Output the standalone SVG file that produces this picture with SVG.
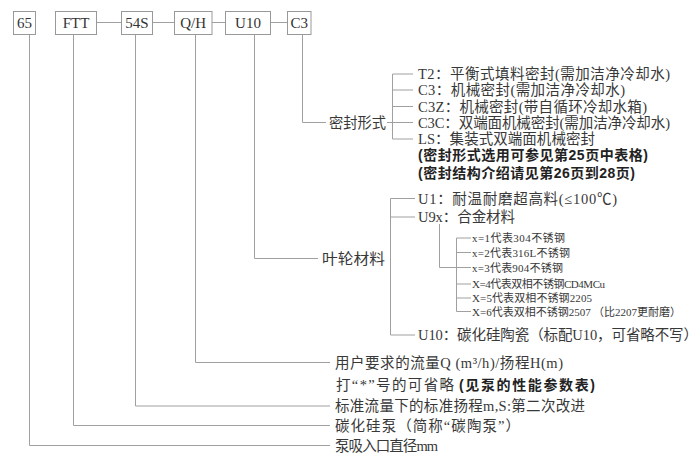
<svg xmlns="http://www.w3.org/2000/svg" width="700" height="459" viewBox="0 0 700 459">
<style>
.bx{fill:#fff;stroke:#999;stroke-width:1}
.bt{font-family:"Liberation Serif","Noto Sans CJK SC",serif;font-size:15px;fill:#333;text-anchor:middle}
.ln{stroke:#a0a0a0;stroke-width:1;fill:none}
.t{font-family:"Liberation Serif","Noto Sans CJK SC",serif;font-size:14.5px;fill:#383838}
.s{font-family:"Liberation Serif","Noto Sans CJK SC",serif;font-size:11px;fill:#383838}
.b{font-family:"Liberation Sans","Noto Sans CJK SC",sans-serif;font-size:14px;font-weight:bold;fill:#222}
</style>
<rect width="700" height="459" fill="#fff"/>
<g id="connectors">
<path class="ln" d="M96.5 22.5H121M152.5 22.5H174.5M212 22.5H225.5M270.5 22.5H287.5"/>
<path class="ln" d="M302.5 35V122.5H326"/>
<path class="ln" d="M392.5 74V139M392.5 74H413M392.5 90H413M392.5 106.5H413M387 122.5H413M392.5 139H413"/>
<path class="ln" d="M254.5 35V258.5H318"/>
<path class="ln" d="M390.5 198.5V335M390.5 198.5H415M390.5 217H415M390.5 335H415"/>
<path class="ln" d="M439.5 224V267.5H457"/>
<path class="ln" d="M456.5 238V311.5M456.5 238H471M456.5 252.5H471M456.5 267.5H471M456.5 284H471M456.5 298H471M456.5 311.5H471"/>
<path class="ln" d="M195.5 35V362.5H330"/>
<path class="ln" d="M135.5 35V406H330"/>
<path class="ln" d="M73.5 35V425.5H330"/>
<path class="ln" d="M29.5 35V445.5H330"/>
</g>
<g id="n65"><rect class="bx" x="13.5" y="11.5" width="22" height="23"/><text class="bt" x="24.5" y="28">65</text></g>
<g id="nFTT"><rect class="bx" x="55.5" y="11.5" width="41" height="23"/><text class="bt" x="76" y="28">FTT</text></g>
<g id="n54S"><rect class="bx" x="121.5" y="11.5" width="31" height="23"/><text class="bt" x="137" y="28">54S</text></g>
<g id="nQH"><rect class="bx" x="174.5" y="11.5" width="37.5" height="23"/><text class="bt" x="193.2" y="28">Q/H</text></g>
<g id="nU10"><rect class="bx" x="225.5" y="11.5" width="45" height="23"/><text class="bt" x="248" y="28">U10</text></g>
<g id="nC3"><rect class="bx" x="287.5" y="11.5" width="23.5" height="23"/><text class="bt" x="299.2" y="28">C3</text></g>
<g id="seal">
<text class="t" x="329" y="127.5" textLength="57" lengthAdjust="spacingAndGlyphs">密封形式</text>
<text class="t" x="418" y="79" textLength="252">T2：平衡式填料密封(需加洁净冷却水)</text>
<text class="t" x="418" y="95" textLength="207">C3：机械密封(需加洁净冷却水)</text>
<text class="t" x="418" y="111.5" textLength="229">C3Z：机械密封(带自循环冷却水箱)</text>
<text class="t" x="418" y="127.5" textLength="252">C3C：双端面机械密封(需加洁净冷却水)</text>
<text class="t" x="418" y="144" textLength="177">LS：集装式双端面机械密封</text>
<text class="b" x="418" y="160" textLength="230">(密封形式选用可参见第25页中表格)</text>
<text class="b" x="418" y="178" textLength="217">(密封结构介绍请见第26页到28页)</text>
</g>
<g id="impeller">
<text class="t" x="322" y="263.5" textLength="63" lengthAdjust="spacingAndGlyphs">叶轮材料</text>
<text class="t" x="418" y="203.5" textLength="199">U1：耐温耐磨超高料(≤100℃)</text>
<text class="t" x="418" y="222" textLength="97">U9x：合金材料</text>
<text class="s" x="472" y="242" textLength="93">x=1代表304不锈钢</text>
<text class="s" x="472" y="256.5" textLength="98">x=2代表316L不锈钢</text>
<text class="s" x="472" y="271.5" textLength="91">x=3代表904不锈钢</text>
<text class="s" x="472" y="288" textLength="133">X=4代表双相不锈钢CD4MCu</text>
<text class="s" x="472" y="302" textLength="120">X=5代表双相不锈钢2205</text>
<text class="s" y="315.5"><tspan x="472">X=6代表双相不锈钢2507</tspan><tspan x="593">（比2207更耐磨）</tspan></text>
<text class="t" x="418" y="340" textLength="280">U10：碳化硅陶瓷（标配U10，可省略不写）</text>
</g>
<g id="flow">
<text class="t" x="335" y="367.5" textLength="228">用户要求的流量Q (m³/h)/扬程H(m)</text>
<text class="t" x="336" y="390" textLength="118">打“*”号的可省略</text>
<text class="b" x="459" y="390" textLength="136">(见泵的性能参数表)</text>
</g>
<g id="head"><text class="t" x="335" y="411" textLength="250">标准流量下的标准扬程m,S:第二次改进</text></g>
<g id="pump"><text class="t" x="335" y="430.5" textLength="185">碳化硅泵（简称“碳陶泵”）</text></g>
<g id="inlet"><text class="t" x="335" y="450.5" textLength="103">泵吸入口直径mm</text></g>
</svg>
